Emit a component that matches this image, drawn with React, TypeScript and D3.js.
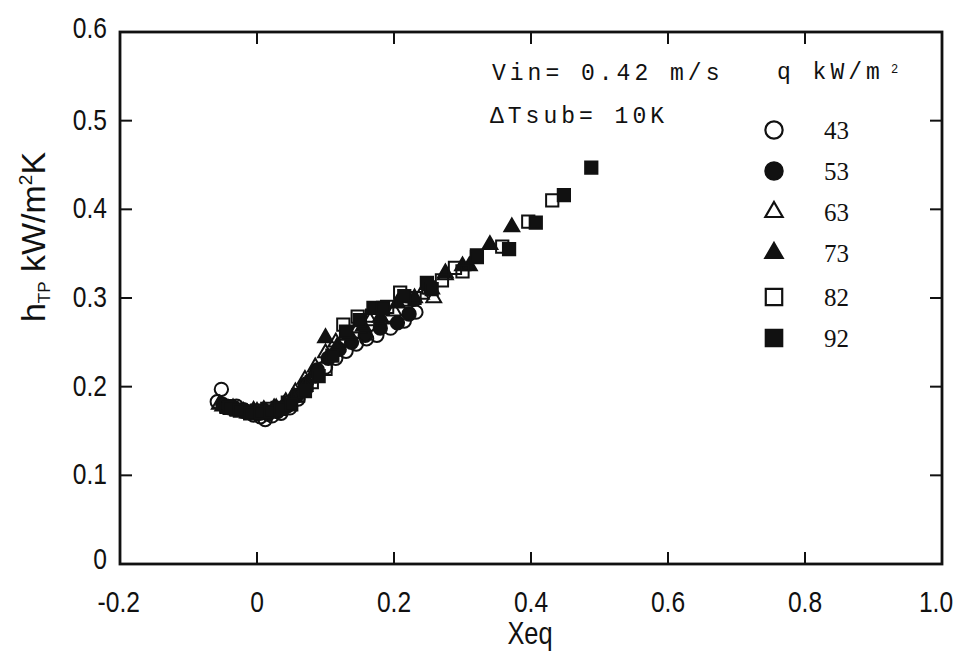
import React from "react";
import * as d3 from "d3";

const X_TICKS = [-0.2, 0, 0.2, 0.4, 0.6, 0.8, 1.0];
const X_TICK_LABELS = ["-0.2", "0", "0.2", "0.4", "0.6", "0.8", "1.0"];
const Y_TICKS = [0, 0.1, 0.2, 0.3, 0.4, 0.5, 0.6];
const Y_TICK_LABELS = ["0", "0.1", "0.2", "0.3", "0.4", "0.5", "0.6"];

const SERIES_NAMES = ["43", "53", "63", "73", "82", "92"];

const q43x = [-0.058, -0.052, -0.04, -0.03, -0.018, -0.005, 0.005, 0.012, 0.022, 0.035, 0.048, 0.06, 0.072, 0.085, 0.1, 0.115, 0.13, 0.145, 0.16, 0.175, 0.195, 0.215, 0.232];
const q43y = [0.183, 0.197, 0.176, 0.178, 0.172, 0.168, 0.166, 0.163, 0.167, 0.17, 0.176, 0.186, 0.198, 0.212, 0.222, 0.232, 0.24, 0.248, 0.254, 0.258, 0.266, 0.274, 0.284];

const q53x = [-0.05, -0.035, -0.02, -0.008, 0.004, 0.016, 0.03, 0.044, 0.058, 0.072, 0.088, 0.104, 0.12, 0.138, 0.158, 0.18, 0.205, 0.222];
const q53y = [0.18, 0.177, 0.174, 0.171, 0.17, 0.169, 0.172, 0.178, 0.19, 0.203, 0.219, 0.232, 0.242, 0.25, 0.258, 0.266, 0.272, 0.282];

const q63x = [-0.055, -0.042, -0.028, -0.014, 0.0, 0.014, 0.028, 0.042, 0.056, 0.07, 0.085, 0.1, 0.115, 0.13, 0.148, 0.165, 0.182, 0.2, 0.22, 0.24, 0.258, 0.275];
const q63y = [0.18, 0.175, 0.173, 0.17, 0.172, 0.171, 0.176, 0.183, 0.194, 0.208, 0.222, 0.238, 0.25, 0.258, 0.266, 0.274, 0.276, 0.285, 0.296, 0.304, 0.3, 0.326];

const q73x = [-0.05, -0.035, -0.02, -0.005, 0.01, 0.025, 0.04, 0.055, 0.07, 0.085, 0.1, 0.117, 0.135, 0.155, 0.18, 0.205, 0.23, 0.255, 0.275, 0.3, 0.31, 0.34, 0.372];
const q73y = [0.178, 0.176, 0.172, 0.173, 0.174, 0.176, 0.18, 0.188, 0.2, 0.215, 0.255, 0.245, 0.258, 0.268, 0.278, 0.294, 0.3, 0.31, 0.328, 0.336, 0.336, 0.36, 0.38];

const q82x = [-0.045, -0.03, -0.015, 0.0, 0.015, 0.03, 0.045, 0.06, 0.08, 0.1, 0.126, 0.147, 0.168, 0.19, 0.209, 0.23, 0.25, 0.27, 0.289, 0.3, 0.321, 0.358, 0.396, 0.431];
const q82y = [0.178, 0.174, 0.172, 0.173, 0.175, 0.176, 0.182, 0.19, 0.205, 0.22, 0.27, 0.279, 0.28, 0.29, 0.306, 0.3, 0.312, 0.32, 0.334, 0.33, 0.348, 0.358, 0.386, 0.41];

const q92x = [-0.04, -0.025, -0.01, 0.005, 0.02, 0.035, 0.05, 0.07, 0.09, 0.11, 0.13, 0.15, 0.17, 0.184, 0.215, 0.248, 0.255, 0.321, 0.368, 0.407, 0.448, 0.488];
const q92y = [0.176, 0.173, 0.17, 0.171, 0.172, 0.175, 0.18, 0.195, 0.212, 0.235, 0.262, 0.275, 0.289, 0.289, 0.302, 0.317, 0.31, 0.346, 0.355, 0.385, 0.416, 0.447];

const SERIES_X = [q43x, q53x, q63x, q73x, q82x, q92x];
const SERIES_Y = [q43y, q53y, q63y, q73y, q82y, q92y];

type Shape = { type: any; filled: boolean; size: number; legendSize: number };
const SHAPES: Shape[] = [
  { type: d3.symbolCircle, filled: false, size: 140, legendSize: 235 },
  { type: d3.symbolCircle, filled: true, size: 140, legendSize: 235 },
  { type: d3.symbolTriangle, filled: false, size: 95, legendSize: 130 },
  { type: d3.symbolTriangle, filled: true, size: 95, legendSize: 130 },
  { type: d3.symbolSquare, filled: false, size: 150, legendSize: 270 },
  { type: d3.symbolSquare, filled: true, size: 150, legendSize: 270 },
];

const W = 965;
const H = 652;
const LEFT = 120;
const RIGHT = 942;
const TOP = 32;
const BOTTOM = 564;

const sans = "'Liberation Sans', Arial, sans-serif";
const mono = "'Liberation Mono', 'Courier New', monospace";
const serif = "'Liberation Serif', 'DejaVu Serif', serif";
const ink = "#111";
const SQ = 0.82; // condensed look of the lettering

function NarrowText(props: { x: number; y: number; anchor?: string; size: number; children: any }) {
  const { x, y, anchor, size, children } = props;
  return (
    <text transform={`translate(${x},${y}) scale(${SQ},1)`} textAnchor={anchor || "start"}
      fontFamily={sans} fontSize={size} fill={ink}>
      {children}
    </text>
  );
}

export default function App() {
  const x = d3.scaleLinear().domain([-0.2, 1.0]).range([LEFT, RIGHT]);
  const y = d3.scaleLinear().domain([0, 0.6]).range([BOTTOM, TOP]);
  const tickLen = 12;

  const legendX = 774;
  const legendRows = [130, 171, 212, 253, 297, 338];

  const xLabelPos = (i: number, t: number) => {
    if (i === 0) return { px: 140, anchor: "end" };
    if (i === X_TICKS.length - 1) return { px: 936, anchor: "middle" };
    return { px: x(t), anchor: "middle" };
  };

  return (
    <svg width={W} height={H} style={{ position: "absolute", left: 0, top: 0, background: "#fff" }}>
      <rect x={0} y={0} width={W} height={H} fill="#fff" />
      {/* frame */}
      <rect x={LEFT} y={TOP} width={RIGHT - LEFT} height={BOTTOM - TOP} fill="none" stroke={ink} strokeWidth={2.8} />
      {/* ticks */}
      {X_TICKS.slice(1, -1).map((t) => (
        <g key={"xt" + t}>
          <line x1={x(t)} x2={x(t)} y1={BOTTOM} y2={BOTTOM - tickLen} stroke={ink} strokeWidth={2} />
          <line x1={x(t)} x2={x(t)} y1={TOP} y2={TOP + tickLen} stroke={ink} strokeWidth={2} />
        </g>
      ))}
      {Y_TICKS.slice(1, -1).map((t) => (
        <g key={"yt" + t}>
          <line x1={LEFT} x2={LEFT + tickLen} y1={y(t)} y2={y(t)} stroke={ink} strokeWidth={2} />
          <line x1={RIGHT} x2={RIGHT - tickLen} y1={y(t)} y2={y(t)} stroke={ink} strokeWidth={2} />
        </g>
      ))}
      {/* x tick labels */}
      {X_TICKS.map((t, i) => {
        const p = xLabelPos(i, t);
        return (
          <NarrowText key={"xl" + t} x={p.px} y={612} anchor={p.anchor} size={30}>
            {X_TICK_LABELS[i]}
          </NarrowText>
        );
      })}
      {/* y tick labels */}
      {Y_TICKS.map((t, i) => (
        <NarrowText key={"yl" + t} x={107} y={y(t) + 9 - (i === 0 ? 4 : 0) - (i === Y_TICKS.length - 1 ? 3 : 0)} anchor="end" size={30}>
          {Y_TICK_LABELS[i]}
        </NarrowText>
      ))}
      {/* axis titles */}
      <NarrowText x={530} y={644} anchor="middle" size={31}>Xeq</NarrowText>
      <text transform={`translate(45,237) rotate(-90)`} textAnchor="middle" fontFamily={sans} fontSize={34} fill={ink}>
        h<tspan fontSize={17} dy={5}>TP</tspan>
        <tspan dy={-5}> kW/m</tspan>
        <tspan fontSize={19} dy={-13}>2</tspan>
        <tspan dy={13}>K</tspan>
      </text>
      {/* data */}
      {SERIES_X.map((xs, si) => {
        const sh = SHAPES[si];
        const path = d3.symbol().type(sh.type).size(sh.size)() as string;
        return (
          <g key={"s" + si}>
            {xs.map((xv, j) => (
              <path key={j} d={path}
                transform={`translate(${x(xv)},${y(SERIES_Y[si][j])})`}
                fill={sh.filled ? ink : "none"}
                stroke={ink} strokeWidth={2} />
            ))}
          </g>
        );
      })}
      {/* annotations */}
      <text x={492} y={80} fontFamily={mono} fontSize={23} letterSpacing={4} fill={ink}>Vin= 0.42 m/s</text>
      <text x={490} y={123} fontFamily={mono} fontSize={23} letterSpacing={4} fill={ink}>ΔTsub= 10K</text>
      <text x={777} y={79} fontFamily={mono} fontSize={23} letterSpacing={4} fill={ink}>q kW/m</text>
      <text x={891} y={73} fontFamily={mono} fontSize={12} fill={ink}>2</text>
      {/* legend */}
      {SERIES_NAMES.map((name, i) => {
        const sh = SHAPES[i];
        const path = d3.symbol().type(sh.type).size(sh.legendSize)() as string;
        return (
          <g key={"lg" + name}>
            <path d={path} transform={`translate(${legendX},${legendRows[i]})`}
              fill={sh.filled ? ink : "#fff"} stroke={ink} strokeWidth={2.2} />
            <text x={824} y={legendRows[i] + 9} fontFamily={serif} fontSize={25} fill={ink}>{name}</text>
          </g>
        );
      })}
    </svg>
  );
}
